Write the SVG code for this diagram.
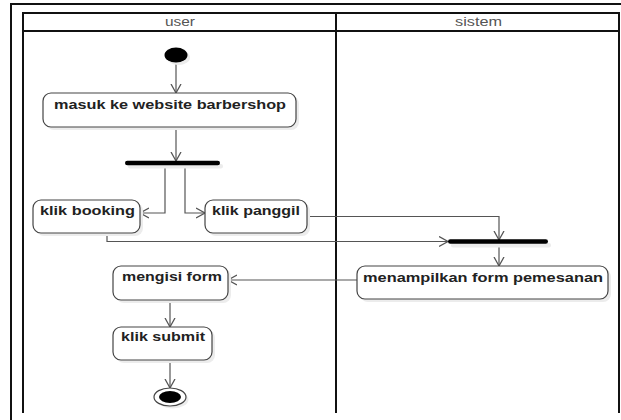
<svg xmlns="http://www.w3.org/2000/svg" width="621" height="420" viewBox="0 0 621 420">
  <style>
    .lane { fill: none; stroke: #111; stroke-width: 2; }
    .node rect.box { fill: #fff; stroke: #444; stroke-width: 1.2; }
    .shadow { fill: #ececec; }
    .label { font-family: "Liberation Sans", Arial, sans-serif; font-weight: bold; font-size: 13.5px; fill: #222; }
    .head { font-family: "Liberation Sans", Arial, sans-serif; font-size: 12px; fill: #555; }
    .bar { fill: #000; }
    .edge { fill: none; stroke: #555; stroke-width: 1.2; }
  </style>
  <defs>
    <marker id="open" markerUnits="userSpaceOnUse" markerWidth="12" markerHeight="12" refX="9" refY="5" orient="auto" viewBox="0 0 12 10">
      <path d="M0,0 L9,5 L0,10" fill="none" stroke="#555" stroke-width="1.3"/>
    </marker>
  </defs>
  <rect width="621" height="420" fill="#fff"/>

  <!-- outer frame -->
  <g id="frame">
    <path class="lane" d="M11,420 L11,4 L621,4"/>
  </g>

  <!-- swimlanes -->
  <g id="lanes">
    <path class="lane" d="M23,413 L23,13 L619,13 L619,413"/>
    <path class="lane" d="M23,31 L619,31"/>
    <path class="lane" d="M336,13 L336,413"/>
    <text class="head" x="165" y="26" textLength="30" lengthAdjust="spacingAndGlyphs">user</text>
    <text class="head" x="455" y="26" textLength="47" lengthAdjust="spacingAndGlyphs">sistem</text>
  </g>

  <!-- connectors -->
  <g id="connectors">
    <path class="edge" d="M176,63 L176,93" marker-end="url(#open)"/>
    <path class="edge" d="M176,127 L176,161" marker-end="url(#open)"/>
    <path class="edge" d="M165,165 L165,213 L140,213" marker-end="url(#open)"/>
    <path class="edge" d="M185,165 L185,213 L205,213" marker-end="url(#open)"/>
    <path class="edge" d="M307,216.5 L499,216.5 L499,240" marker-end="url(#open)"/>
    <path class="edge" d="M107,233 L107,241.5 L448,241.5" marker-end="url(#open)"/>
    <path class="edge" d="M499,244 L499,266" marker-end="url(#open)"/>
    <path class="edge" d="M357,280 L228,280" marker-end="url(#open)"/>
    <path class="edge" d="M170,300 L170,327" marker-end="url(#open)"/>
    <path class="edge" d="M170,360 L170,388" marker-end="url(#open)"/>
  </g>

  <!-- nodes -->
  <g id="start" class="node">
    <ellipse cx="178.5" cy="57.5" rx="11.5" ry="7.5" class="shadow"/>
    <ellipse cx="176" cy="55" rx="11.5" ry="7.5" fill="#000"/>
  </g>

  <g id="masuk" class="node">
    <rect class="shadow" x="46" y="96" width="253" height="34" rx="8"/>
    <rect class="box" x="43" y="93" width="253" height="34" rx="8"/>
    <text class="label" x="54" y="108.5" textLength="232" lengthAdjust="spacingAndGlyphs">masuk ke website barbershop</text>
  </g>

  <g id="fork" class="node">
    <rect class="shadow" x="128" y="164" width="95" height="4.5" rx="2"/>
    <rect class="bar" x="125" y="160.7" width="95" height="4.6" rx="2.3"/>
  </g>

  <g id="booking" class="node">
    <rect class="shadow" x="36" y="203" width="107" height="33" rx="8"/>
    <rect class="box" x="33" y="200" width="107" height="33" rx="8"/>
    <text class="label" x="40" y="215" textLength="95" lengthAdjust="spacingAndGlyphs">klik booking</text>
  </g>

  <g id="panggil" class="node">
    <rect class="shadow" x="208" y="203" width="102" height="33" rx="8"/>
    <rect class="box" x="205" y="200" width="102" height="33" rx="8"/>
    <text class="label" x="212" y="215" textLength="88" lengthAdjust="spacingAndGlyphs">klik panggil</text>
  </g>

  <g id="join" class="node">
    <rect class="shadow" x="451" y="243" width="100" height="4.5" rx="2"/>
    <rect class="bar" x="448" y="239.2" width="100" height="4.6" rx="2.3"/>
  </g>

  <g id="menampilkan" class="node">
    <rect class="shadow" x="360" y="269" width="251" height="33" rx="8"/>
    <rect class="box" x="357" y="266" width="251" height="33" rx="8"/>
    <text class="label" x="363" y="281.5" textLength="240" lengthAdjust="spacingAndGlyphs">menampilkan form pemesanan</text>
  </g>

  <g id="mengisi" class="node">
    <rect class="shadow" x="116" y="269" width="115" height="34" rx="8"/>
    <rect class="box" x="113" y="266" width="115" height="34" rx="8"/>
    <text class="label" x="122" y="280.5" textLength="100" lengthAdjust="spacingAndGlyphs">mengisi form</text>
  </g>

  <g id="submit" class="node">
    <rect class="shadow" x="116" y="330" width="99" height="33" rx="8"/>
    <rect class="box" x="113" y="327" width="99" height="33" rx="8"/>
    <text class="label" x="121" y="341" textLength="84" lengthAdjust="spacingAndGlyphs">klik submit</text>
  </g>

  <g id="end" class="node">
    <ellipse cx="172.5" cy="399.5" rx="16" ry="9" class="shadow"/>
    <ellipse cx="170" cy="397" rx="16" ry="9" fill="#fff" stroke="#444" stroke-width="1.2"/>
    <ellipse cx="170" cy="397" rx="11" ry="6" fill="#000"/>
  </g>
</svg>
